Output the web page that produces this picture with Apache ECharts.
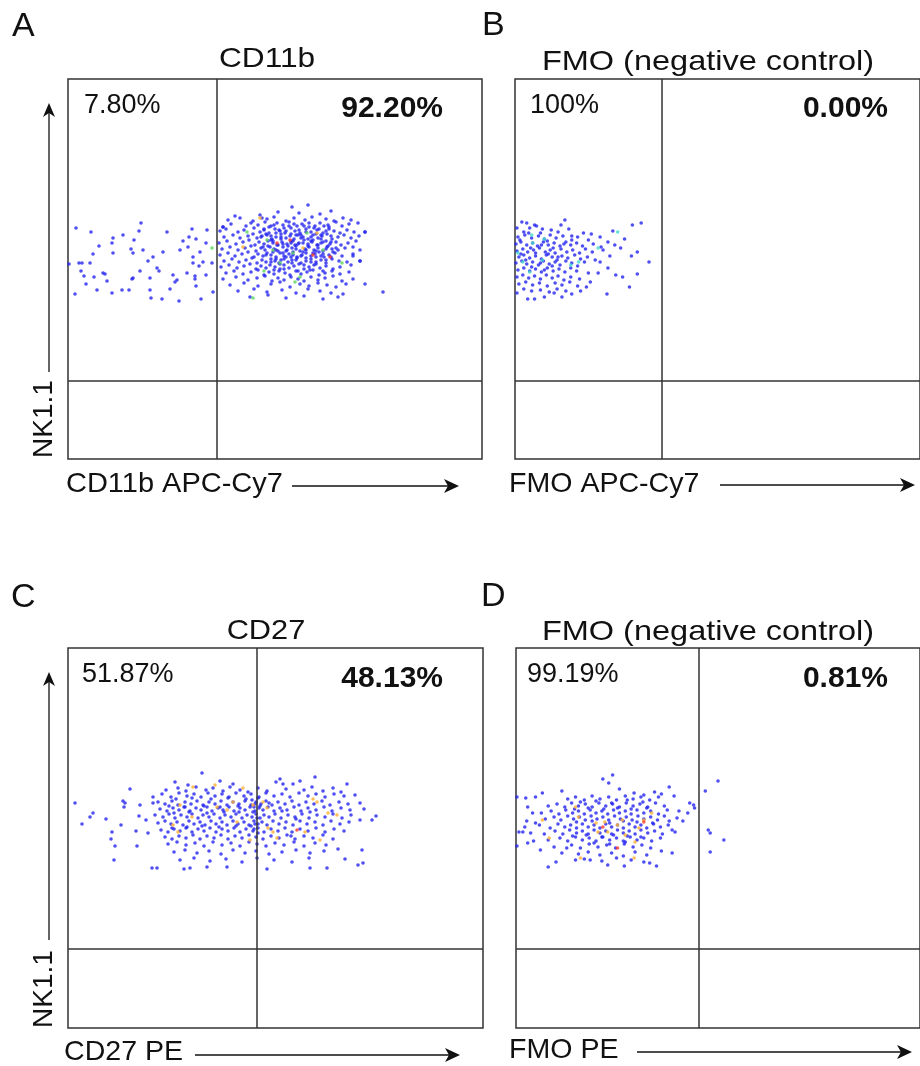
<!DOCTYPE html>
<html>
<head>
<meta charset="utf-8">
<script src="https://cdn.jsdelivr.net/npm/echarts@6/dist/echarts.min.js"></script>
<style>
  html, body { margin: 0; padding: 0; background: #fff; }
  #chart { width: 920px; height: 1066px; }
</style>
</head>
<body>
<div id="chart"></div>
<script>
// channel units; each panel spans 0..414 (x) and 0..380 (y)
const panelTitles = ['CD11b', 'FMO (negative control)', 'CD27', 'FMO (negative control)'];
const panelLetters = ['A', 'B', 'C', 'D'];
const xLabels = ['CD11b APC-Cy7', 'FMO APC-Cy7', 'CD27 PE', 'FMO PE'];
const leftPct = ['7.80%', '100%', '51.87%', '99.19%'];
const rightPct = ['92.20%', '0.00%', '48.13%', '0.81%'];
const gateX = [149, 150, 189, 187];
const gateY = [78, 78, 79, 79];

// density class: 0 blue, 1 green, 2 orange, 3 red, 4 cyan
const dotColors = ['#2323f0', '#5ad85a', '#ffb030', '#ff3a2a', '#3fdcc8'];

const blueA = [
  [8,231],[23,227],[73,236],[55,224],[45,221],[44,216],[31,213],[66,219],[71,228],[99,227],[124,230],[139,229],
  [121,222],[115,218],[128,220],[138,216],[25,205],[45,206],[63,210],[65,206],[75,209],[80,198],[85,202],[95,207],
  [89,191],[91,188],[112,209],[120,212],[125,202],[132,207],[135,197],[125,196],[131,193],[144,196],[1,195],
  [11,196],[14,196],[22,196],[13,188],[16,183],[26,182],[35,186],[37,185],[39,178],[18,175],[64,180],[65,181],
  [72,188],[82,181],[105,184],[107,177],[109,179],[119,186],[127,183],[127,180],[138,184],[102,170],[82,169],
  [54,169],[61,169],[44,166],[29,169],[7,165],[83,161],[94,160],[111,158],[133,160],[145,167],[128,173],
  [224,252],[240,254],[210,247],[231,246],[252,245],[263,248],[167,243],[192,244],[194,241],
  [160,239],[172,241],[185,238],[199,240],[206,242],[218,238],[226,241],[237,239],[244,242],[258,240],[266,238],[275,241],[283,239],[155,232],
  [163,235],[178,233],[183,236],[190,234],[197,237],[203,233],[209,236],[215,234],[221,237],[229,233],[234,235],[241,236],[247,233],[252,236],[260,234],[268,237],[274,233],[281,235],[290,236],
  [152,228],[158,230],[170,227],[176,229],[186,231],[192,227],[196,229],[201,226],[207,230],[212,228],[217,226],[223,231],[227,228],[232,226],[238,230],[243,227],[249,229],[255,226],[261,230],[266,228],[272,226],[279,229],[286,227],[297,227],
  [156,222],[165,224],[172,221],[180,223],[185,225],[189,221],[194,223],[199,224],[204,220],[208,222],[213,225],[218,221],[222,223],[226,220],[230,224],[235,222],[240,220],[245,224],[250,221],[254,223],[259,225],[264,220],[270,222],[276,224],[283,221],[291,223],
  [151,216],[159,218],[168,215],[175,217],[181,219],[187,214],[191,217],[196,215],[200,218],[205,216],[209,214],[214,217],[219,215],[223,218],[227,214],[231,216],[236,219],[240,215],[244,217],[249,214],[253,216],[258,218],[262,215],[268,217],[273,214],[280,216],[288,218],
  [154,210],[162,212],[170,209],[177,211],[183,213],[188,208],[193,211],[197,209],[202,212],[206,210],[210,208],[215,212],[219,209],[224,211],[228,213],[232,208],[237,210],[241,212],[246,209],[250,211],[255,208],[259,212],[264,210],[270,209],[277,211],[285,212],[292,209],
  [152,204],[160,206],[167,203],[174,205],[180,207],[186,202],[190,205],[195,203],[199,206],[203,204],[208,202],[212,206],[216,203],[221,205],[225,207],[229,202],[234,204],[238,206],[243,203],[247,205],[251,207],[256,202],[261,204],[267,206],[274,203],[285,205],
  [156,198],[164,200],[171,197],[178,199],[184,201],[189,196],[194,199],[198,197],[203,200],[207,198],[211,196],[216,200],[220,197],[224,199],[229,201],[233,196],[238,198],[243,200],[248,197],[253,199],[258,196],[264,200],[271,198],[279,197],[292,198],
  [153,192],[161,194],[169,191],[176,193],[182,195],[188,190],[193,193],[198,191],[202,194],[207,192],[212,190],[216,194],[221,191],[226,193],[231,195],[236,190],[241,192],[246,194],[252,191],[258,193],[265,190],[272,192],[283,194],
  [158,186],[166,188],[175,185],[183,187],[190,189],[196,184],[201,187],[206,185],[211,188],[217,186],[222,184],[228,188],[233,185],[239,187],[245,189],[251,184],[257,186],[264,188],[272,185],[281,187],
  [155,180],[168,182],[180,179],[189,181],[197,183],[204,178],[210,181],[216,179],[223,182],[230,180],[236,178],[243,182],[250,179],[257,181],[265,183],[274,178],[285,180],
  [162,174],[176,176],[190,173],[203,175],[212,177],[222,172],[232,175],[241,173],[250,176],[259,174],[268,172],[278,175],[297,175],
  [170,168],[186,170],[199,167],[214,169],[228,166],[240,170],[252,168],[263,166],[275,165],[315,167],
  [182,162],[200,164],[218,161],[236,163],[255,160],[270,162],[297,227],[292,198],[285,203],[155,232],
  [201,232],[211,229],[221,233],[231,229],[241,232],[251,230],[261,232],
  [198,225],[208,226],[218,228],[228,224],[238,227],[248,225],[258,228],
  [203,219],[213,220],[223,216],[233,221],[243,218],[253,220],[263,217],
  [200,213],[210,214],[220,213],[230,215],[240,213],[250,214],[260,213],
  [205,207],[215,206],[225,204],[235,207],[245,206],[255,205],[265,207],
  [208,200],[218,202],[228,199],[238,201],[248,202],[258,199],
  [212,195],[224,196],[236,194],[248,195],
  [196,230],[206,234],[216,231],[226,235],[236,233],[246,231],[256,233],
  [193,222],[203,223],[213,222],[223,225],[233,224],[243,222],[253,224],[263,223],
  [195,212],[205,218],[215,215],[225,218],[235,216],[245,219],[255,217],[268,211],
  [198,204],[208,209],[218,208],[228,210],[238,209],[248,208],[258,210],
  [203,197],[213,199],[223,202],[233,203],[243,197],[253,203],[263,202],
  [206,189],[216,190],[230,188],[242,189],[255,188]
];
const hotA = [
  [179,227,1],[144,211,1],[199,219,1],[205,209,1],[225,206,1],[212,196,1],[227,177,1],[232,182,1],[185,161,1],
  [255,209,1],[274,196,1],[196,188,1],[239,226,1],[222,219,3],[235,211,2],[245,204,3],[249,226,2],[209,216,3],
  [175,212,2],[192,241,2],[262,202,3]
];

const blueB = [
  [7,237],[12,236],[20,234],[22,233],[47,234],[51,239],[129,236],[120,234],
  [2,231],[15,231],[55,230],[37,229],[100,228],[70,226],[78,225],[87,222],[28,230],[9,227],[44,227],
  [3,222],[10,224],[17,221],[24,223],[30,220],[36,224],[42,221],[49,223],[58,219],[64,222],[95,217],[112,220],[75,219],
  [1,215],[6,217],[12,214],[18,216],[23,213],[29,217],[34,214],[40,216],[46,213],[52,217],[57,214],[63,216],[69,213],[80,215],[88,212],[102,214],
  [2,208],[8,210],[13,207],[19,209],[25,211],[31,207],[36,209],[41,206],[47,210],[53,207],[59,209],[66,206],[72,210],[79,207],[90,209],[108,211],[125,207],
  [4,202],[9,204],[15,201],[21,203],[27,200],[32,204],[38,202],[43,199],[48,203],[54,201],[61,204],[67,200],[74,202],[82,199],[97,203],[119,203],
  [1,196],[7,198],[12,195],[18,197],[24,194],[29,198],[35,195],[41,197],[46,194],[52,198],[58,196],[64,193],[71,197],[87,197],[95,191],[137,197],
  [3,189],[9,191],[15,188],[21,190],[27,187],[33,191],[39,188],[45,190],[51,187],[57,191],[63,188],[75,186],[85,186],[103,184],[110,182],[125,185],
  [2,182],[8,184],[14,181],[20,183],[26,180],[32,184],[38,181],[44,183],[50,179],[57,182],[66,180],[77,177],
  [4,175],[11,177],[18,174],[25,176],[33,173],[41,176],[48,174],[56,177],[64,173],[73,172],[117,172],
  [2,166],[9,170],[17,168],[26,169],[35,167],[43,170],[52,168],[67,168],[40,166],
  [13,160],[20,160],[30,162],[48,162],[58,165],[94,165],
  [5,219],[14,226],[26,226],[33,218],[39,211],[27,214],[16,211],[6,205],[21,206],[34,205],[11,199],[26,196],
  [38,193],[17,192],[30,189],[44,202],[50,215],[58,223]
];
const hotB = [
  [17,224,4],[30,220,4],[18,216,4],[3,206,4],[8,197,4],[28,199,4],[65,197,4],[15,187,4],[57,194,4],[85,211,4],[105,227,4]
];

const blueC = [
  [7,225],[14,204],[25,215],[22,211],[38,209],[44,196],[43,189],[47,182],[46,168],[53,203],[55,227],[57,225],[56,221],
  [62,239],[72,223],[71,212],[78,208],[69,182],[68,197],[80,195],[84,160],[89,160],[85,225],
  [134,255],[107,246],[212,249],[208,246],[215,244],[225,244],[279,244],[152,247],[165,244],[120,243],[247,251],[232,247],
  [98,238],[110,240],[118,237],[128,241],[138,238],[145,240],[155,237],[162,241],[172,238],[180,236],[190,240],[199,237],[218,239],[236,238],[244,241],[255,237],[265,240],[273,236],
  [85,231],[94,234],[103,231],[111,235],[119,232],[126,234],[133,231],[140,235],[147,232],[154,234],[161,231],[168,235],[176,232],[183,234],[191,231],[198,235],[206,232],[214,234],[222,231],[231,235],[240,232],[248,234],[257,231],[266,234],[276,232],[287,233],
  [90,226],[97,224],[104,227],[110,223],[117,226],[123,224],[129,227],[135,223],[141,226],[147,224],[153,227],[159,223],[165,226],[171,224],[177,227],[183,223],[188,226],[193,224],[198,227],[204,223],[210,226],[217,224],[224,227],[231,223],[238,226],[246,224],[254,227],[262,223],[271,226],[280,224],[292,225],
  [92,219],[99,217],[105,220],[111,218],[117,221],[122,217],[128,220],[133,218],[139,221],[144,217],[150,220],[155,218],[161,221],[166,217],[172,220],[177,218],[182,221],[187,217],[191,220],[195,218],[200,221],[206,217],[212,220],[219,218],[226,221],[233,217],[240,220],[248,218],[256,221],[264,217],[273,220],[282,218],[296,219],
  [87,213],[95,211],[101,214],[107,210],[113,213],[119,211],[124,214],[130,210],[135,213],[141,211],[146,214],[152,210],[157,213],[163,211],[168,214],[174,210],[179,213],[184,211],[188,214],[192,210],[196,213],[201,211],[207,214],[213,210],[220,213],[227,211],[234,214],[241,210],[249,213],[257,211],[265,214],[274,210],[283,213],[292,208],[304,208],[308,212],
  [90,205],[97,207],[103,204],[109,206],[115,203],[121,207],[126,204],[132,206],[137,203],[143,207],[148,204],[154,206],[159,203],[165,207],[170,204],[176,206],[181,203],[186,207],[190,204],[194,206],[199,203],[205,207],[211,204],[218,206],[225,203],[232,207],[239,204],[247,206],[255,203],[263,207],[272,204],[281,206],
  [93,198],[100,196],[106,199],[112,197],[118,200],[124,196],[130,199],[136,197],[142,200],[148,196],[154,199],[160,197],[166,200],[172,196],[178,199],[185,197],[190,200],[196,196],[203,199],[210,197],[217,200],[224,196],[232,199],[240,197],[248,200],[257,196],[266,199],[276,197],
  [97,191],[104,189],[111,192],[118,190],[125,193],[132,189],[139,192],[146,190],[153,193],[160,189],[167,192],[174,190],[181,193],[188,191],[195,189],[203,192],[211,190],[219,193],[227,189],[236,192],[245,190],[255,193],[265,189],
  [100,184],[109,186],[118,183],[127,185],[136,182],[145,186],[154,183],[163,185],[172,182],[181,186],[189,184],[198,182],[207,185],[216,183],[226,186],[236,182],[247,185],[258,183],[270,179],[294,178],
  [106,176],[117,178],[129,175],[141,177],[153,174],[165,178],[177,175],[188,177],[201,174],[214,176],[228,178],[242,175],[256,177],
  [112,168],[126,170],[142,167],[158,169],[174,166],[189,170],[206,168],[224,166],[241,170],[277,169],
  [116,159],[122,160],[139,161],[159,161],[199,159],[242,160],[259,160],[290,163],[295,165],
  [185,216],[189,210],[187,204],[192,222],[186,199],[190,195],[184,228],[190,230],[187,224],
  [108,229],[124,230],[143,229],[160,230],[178,229],
  [101,222],[116,221],[136,222],[152,221],[170,222],[186,221],
  [106,215],[121,216],[139,215],[156,216],[171,216],
  [104,200],[119,201],[134,202],[151,201],[168,202],[183,202],
  [201,225],[214,217],[228,209],[242,216],[223,192]
];
const hotC = [
  [125,241,2],[147,243,2],[175,240,2],[112,223,2],[124,211,2],[105,203,2],[110,196,2],[149,221,2],[165,226,2],
  [159,218,2],[169,206,2],[182,188,2],[185,223,2],[195,226,2],[200,200,2],[205,196,2],[209,190,2],[229,198,3],
  [237,196,2],[252,188,2],[260,215,2],[249,226,2],[245,229,2],[269,213,2],[199,220,2]
];

const blueD = [
  [99,253],[89,249],[95,245],[106,239],[121,235],[131,233],[157,241],[162,232],[149,234],[142,236],[47,237],[27,235],
  [20,231],[10,230],[1,231],[12,221],[17,215],[3,196],[1,182],[12,185],[18,187],[25,178],[20,205],[11,207],[7,196],
  [178,225],[182,223],[183,220],[176,215],[167,217],[171,207],[160,198],[157,207],[33,161],[41,166],[47,175],[52,180],
  [61,168],[76,168],[94,163],[111,162],[131,166],[137,165],[144,162],[149,177],
  [53,229],[61,231],[70,228],[78,232],[86,229],[95,231],[103,228],[112,232],[120,229],[128,231],[137,228],[146,231],
  [33,222],[42,224],[50,221],[57,225],[64,222],[71,224],[78,221],[85,225],[92,222],[99,224],[106,221],[113,225],[120,222],[127,224],[135,221],[143,225],[152,222],
  [26,215],[36,217],[44,214],[51,218],[58,215],[64,217],[70,214],[76,218],[82,215],[88,217],[94,214],[100,218],[106,215],[112,217],[118,214],[124,218],[131,215],[138,217],[146,214],[155,218],
  [30,209],[39,211],[46,208],[53,212],[59,209],[65,211],[71,208],[77,212],[83,209],[89,211],[95,208],[101,212],[107,209],[113,211],[119,208],[125,212],[131,209],[138,211],[145,208],[152,212],[165,210],
  [9,201],[24,203],[35,200],[43,204],[50,201],[56,203],[62,200],[68,204],[74,201],[80,203],[86,200],[92,204],[98,201],[104,203],[110,200],[116,204],[122,201],[128,203],[134,200],[141,204],[148,201],[156,203],
  [15,195],[29,194],[40,197],[48,194],[55,198],[62,195],[68,197],[74,194],[80,198],[86,195],[92,197],[98,194],[104,198],[110,195],[116,197],[122,194],[128,198],[135,195],[142,197],[150,194],[163,196],
  [33,188],[45,190],[53,187],[61,191],[68,188],[75,190],[82,187],[89,191],[96,188],[103,190],[110,187],[117,191],[124,188],[131,190],[139,187],[148,190],
  [39,181],[57,183],[66,180],[75,184],[84,181],[93,183],[102,180],[111,184],[120,181],[129,183],[138,180],
  [64,174],[74,176],[86,173],[98,175],[110,172],[122,176],[134,173],[160,175],
  [70,169],[88,167],[103,170],[118,168],
  [207,247],[194,237],[197,198],[199,195],[213,188],[199,176],
  [66,226],[82,227],[98,225],[114,228],[130,226],
  [60,219],[74,220],[90,219],[104,220],[118,219],[134,220],
  [62,206],[78,207],[96,205],[110,207],[124,206],[140,205],
  [58,192],[72,193],[88,191],[100,193],[114,192],[128,191],
  [80,185],[96,184],[112,186]
];
const hotD = [
  [61,221,2],[64,211,2],[82,205,2],[91,206,2],[94,196,2],[104,203,2],[109,208,2],[112,193,2],[122,186,2],
  [126,200,2],[131,208,2],[139,215,2],[121,170,2],[66,170,2],[34,190,2],[27,208,2],[84,196,2],
  [89,201,3],[131,206,3],[104,180,3]
];

const panelData = [
  blueA.map(p => [p[0], p[1], 0]).concat(hotA),
  blueB.map(p => [p[0], p[1], 0]).concat(hotB),
  blueC.map(p => [p[0], p[1], 0]).concat(hotC),
  blueD.map(p => [p[0], p[1], 0]).concat(hotD)
];

const grids = [
  { left: 68, top: 79, width: 414, height: 380 },
  { left: 515, top: 79, width: 414, height: 380 },
  { left: 68, top: 648, width: 415, height: 380 },
  { left: 516, top: 648, width: 414, height: 380 }
];

const FONT = '"Liberation Sans", Arial, Helvetica, sans-serif';
const INK = '#111';

function txt(text, x, y, size, opts) {
  opts = opts || {};
  return {
    type: 'text', x: x, y: y, rotation: opts.rotation || 0, scaleX: opts.scaleX || 1,
    silent: true,
    style: {
      text: text, fill: INK, fontSize: size, fontFamily: FONT,
      fontWeight: opts.bold ? 'bold' : 'normal',
      textAlign: opts.align || 'left', align: opts.align || 'left',
      textVerticalAlign: 'middle', verticalAlign: 'middle'
    }
  };
}

function hArrow(x1, x2, y) {
  return [
    { type: 'line', silent: true, shape: { x1: x1, y1: y, x2: x2 - 6, y2: y }, style: { stroke: INK, lineWidth: 1.3 } },
    { type: 'polygon', silent: true, shape: { points: [[x2, y], [x2 - 15, y - 7], [x2 - 11, y], [x2 - 15, y + 7]] }, style: { fill: INK } }
  ];
}
function vArrow(x, y1, y2) {
  return [
    { type: 'line', silent: true, shape: { x1: x, y1: y1, x2: x, y2: y2 + 6 }, style: { stroke: INK, lineWidth: 1.3 } },
    { type: 'polygon', silent: true, shape: { points: [[x, y2], [x - 6, y2 + 14], [x, y2 + 10], [x + 6, y2 + 14]] }, style: { fill: INK } }
  ];
}

const graphics = [
  txt(panelLetters[0], 12, 27, 34), txt(panelLetters[1], 482, 26, 34),
  txt(panelLetters[2], 11, 598, 34), txt(panelLetters[3], 481, 597, 34),
  txt(panelTitles[0], 267, 59, 28, { align: 'center', scaleX: 1.13 }),
  txt(panelTitles[1], 708, 62, 28, { align: 'center', scaleX: 1.16 }),
  txt(panelTitles[2], 266, 631, 28, { align: 'center', scaleX: 1.1 }),
  txt(panelTitles[3], 708, 632, 28, { align: 'center', scaleX: 1.16 }),
  txt(leftPct[0], 84, 106, 27), txt(rightPct[0], 443, 109, 30, { align: 'right', bold: true }),
  txt(leftPct[1], 530, 106, 27), txt(rightPct[1], 888, 109, 30, { align: 'right', bold: true }),
  txt(leftPct[2], 82, 675, 27), txt(rightPct[2], 443, 679, 30, { align: 'right', bold: true }),
  txt(leftPct[3], 527, 675, 27), txt(rightPct[3], 888, 679, 30, { align: 'right', bold: true }),
  txt(xLabels[0], 66, 484, 28, { scaleX: 1.035 }), txt(xLabels[1], 509, 484, 28, { scaleX: 1.02 }),
  txt(xLabels[2], 64, 1052, 28, { scaleX: 1.02 }), txt(xLabels[3], 509, 1050, 28, { scaleX: 1.02 }),
  txt('NK1.1', 44, 419, 28, { align: 'center', rotation: Math.PI / 2 }),
  txt('NK1.1', 44, 989, 28, { align: 'center', rotation: Math.PI / 2 })
].concat(
  hArrow(292, 459, 486), hArrow(720, 915, 485), hArrow(195, 460, 1055), hArrow(637, 912, 1052),
  vArrow(49, 372, 103), vArrow(49, 940, 672)
);

const option = {
  animation: false,
  backgroundColor: '#fff',
  grid: grids.map(g => Object.assign({ show: true, borderColor: '#333', borderWidth: 1.5, backgroundColor: '#fff' }, g)),
  xAxis: grids.map((g, i) => ({ type: 'value', gridIndex: i, min: 0, max: g.width, show: false })),
  yAxis: grids.map((g, i) => ({ type: 'value', gridIndex: i, min: 0, max: 380, show: false })),
  series: panelData.map((data, i) => ({
    type: 'scatter',
    xAxisIndex: i,
    yAxisIndex: i,
    data: data,
    symbolSize: 3.6,
    silent: true,
    itemStyle: { color: p => dotColors[p.data[2]], opacity: 0.8 },
    markLine: {
      silent: true,
      symbol: 'none',
      label: { show: false },
      lineStyle: { color: '#333', width: 1.5, type: 'solid' },
      data: [{ xAxis: gateX[i] }, { yAxis: gateY[i] }]
    }
  })),
  graphic: graphics
};

const myChart = echarts.init(document.getElementById('chart'));
myChart.setOption(option);
</script>
</body>
</html>
